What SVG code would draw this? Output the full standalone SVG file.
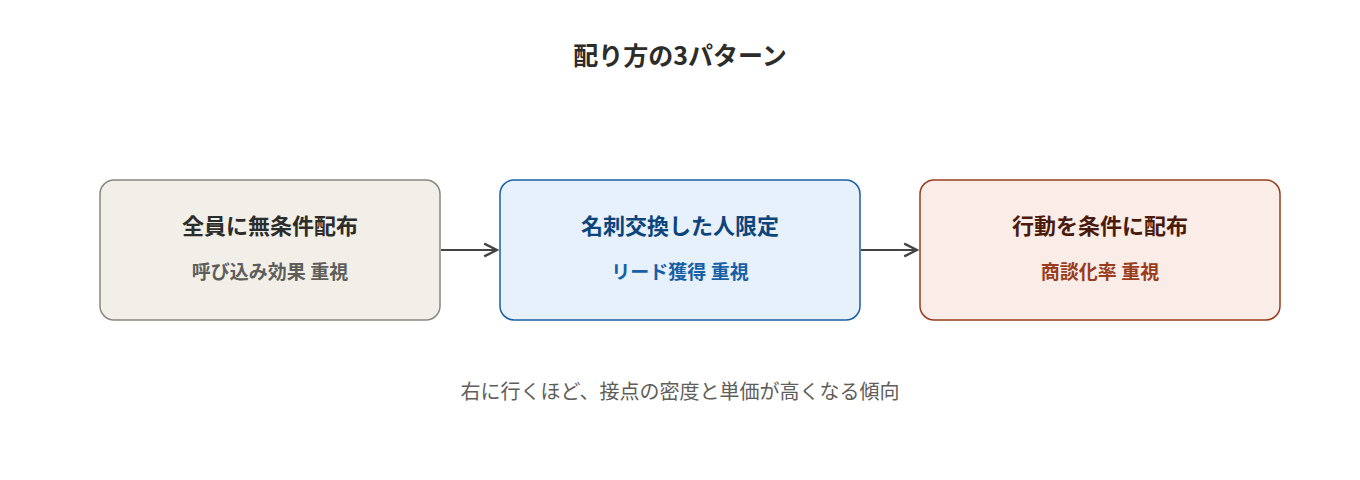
<svg xmlns="http://www.w3.org/2000/svg" width="1360" height="480" viewBox="0 0 1360 480">
<style>
text{font-family:"Noto Sans CJK JP","Noto Sans",sans-serif;text-anchor:middle}
.t{font-size:22px;font-weight:bold}
.s{font-size:19px;font-weight:bold}
.box{stroke-width:1.5}
</style>
<defs><marker id="a" viewBox="0 0 10 10" refX="9" refY="5" markerWidth="8" markerHeight="8" orient="auto"><path d="M1 1L9 5L1 9" fill="none" stroke="#444" stroke-width="1.5"/></marker></defs>
<rect width="1360" height="480" fill="#fff"/>
<text x="680" y="65" font-size="25" font-weight="bold" fill="#2c2c2a">配り方の3パターン</text>
<g id="n1"><rect class="box" x="100" y="180" width="340" height="140" rx="14" fill="#f1efe8" stroke="#888780"/>
<text class="t" x="270" y="234" fill="#2c2c2a">全員に無条件配布</text><text class="s" x="270" y="279" fill="#5f5e5a">呼び込み効果 重視</text></g>
<g id="n2"><rect class="box" x="500" y="180" width="360" height="140" rx="14" fill="#e6f1fb" stroke="#185fa5"/>
<text class="t" x="680" y="234" fill="#0c447c">名刺交換した人限定</text><text class="s" x="680" y="279" fill="#185fa5">リード獲得 重視</text></g>
<g id="n3"><rect class="box" x="920" y="180" width="360" height="140" rx="14" fill="#faece7" stroke="#993c1d"/>
<text class="t" x="1100" y="234" fill="#4a1b0c">行動を条件に配布</text><text class="s" x="1100" y="279" fill="#993c1d">商談化率 重視</text></g>
<g id="connectors" stroke="#444" stroke-width="2" fill="none">
<line x1="441" y1="250" x2="497" y2="250" marker-end="url(#a)"/>
<line x1="861" y1="250" x2="917" y2="250" marker-end="url(#a)"/>
</g>
<text x="680" y="399" font-size="20" fill="#5f5e5a">右に行くほど、接点の密度と単価が高くなる傾向</text>
</svg>
